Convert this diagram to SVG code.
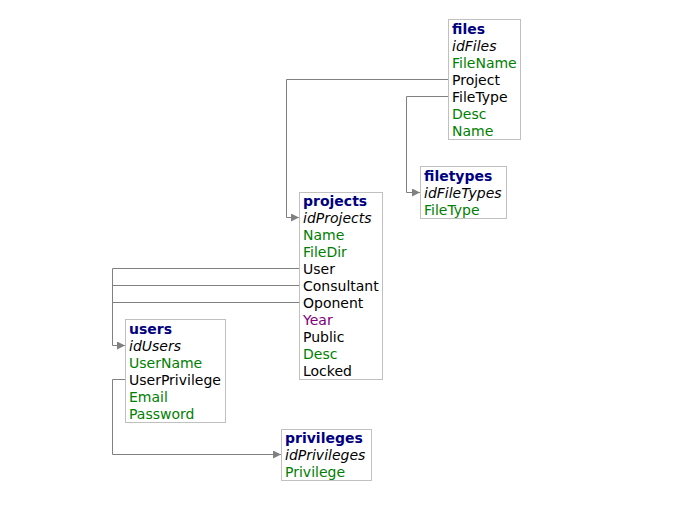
<svg xmlns="http://www.w3.org/2000/svg" width="678" height="509" viewBox="0 0 678 509">
<style>
text{font-family:"DejaVu Sans",Verdana,sans-serif;font-size:14px;}
.box{fill:#fff;stroke:#c0c0c0;stroke-width:1;}
.t{fill:#000080;font-weight:bold;}
.id{fill:#000;font-style:italic;}
.g{fill:#008000;}
.k{fill:#000;}
.p{fill:#800080;}
.c{fill:none;stroke:#808080;stroke-width:1;}
</style>
<defs>
<marker id="ah" viewBox="0 0 8 8" refX="8" refY="4" markerWidth="8" markerHeight="8" markerUnits="userSpaceOnUse" orient="auto">
<path d="M0,0 L8,4 L0,8 Z" fill="#808080"/>
</marker>
</defs>
<rect width="678" height="509" fill="#fff"/>
<g id="connectors">
<path class="c" d="M448.5,79.5 H286.5 V217.5 H299" marker-end="url(#ah)"/>
<path class="c" d="M448.5,96.5 H406.5 V192.5 H420" marker-end="url(#ah)"/>
<path class="c" d="M299,268.5 H112.5 V345.5 H125" marker-end="url(#ah)"/>
<path class="c" d="M299,285.5 H112.5"/>
<path class="c" d="M299,302.5 H112.5"/>
<path class="c" d="M125,379.5 H112.5 V454.5 H281" marker-end="url(#ah)"/>
</g>
<g id="files">
<rect class="box" x="448.5" y="19.5" width="72" height="120"/>
<text x="452" y="34" class="t">files</text>
<text x="452" y="51" class="id">idFiles</text>
<text x="452" y="68" class="g">FileName</text>
<text x="452" y="85" class="k">Project</text>
<text x="452" y="102" class="k">FileType</text>
<text x="452" y="119" class="g">Desc</text>
<text x="452" y="136" class="g">Name</text>
</g>
<g id="filetypes">
<rect class="box" x="420.5" y="166.5" width="86" height="52"/>
<text x="424" y="181" class="t">filetypes</text>
<text x="424" y="198" class="id">idFileTypes</text>
<text x="424" y="215" class="g">FileType</text>
</g>
<g id="projects">
<rect class="box" x="299.5" y="192.5" width="83" height="187"/>
<text x="303" y="206" class="t">projects</text>
<text x="303" y="223" class="id">idProjects</text>
<text x="303" y="240" class="g">Name</text>
<text x="303" y="257" class="g">FileDir</text>
<text x="303" y="274" class="k">User</text>
<text x="303" y="291" class="k">Consultant</text>
<text x="303" y="308" class="k">Oponent</text>
<text x="303" y="325" class="p">Year</text>
<text x="303" y="342" class="k">Public</text>
<text x="303" y="359" class="g">Desc</text>
<text x="303" y="376" class="k">Locked</text>
</g>
<g id="users">
<rect class="box" x="125.5" y="319.5" width="100" height="103"/>
<text x="129" y="334" class="t">users</text>
<text x="129" y="351" class="id">idUsers</text>
<text x="129" y="368" class="g">UserName</text>
<text x="129" y="385" class="k">UserPrivilege</text>
<text x="129" y="402" class="g">Email</text>
<text x="129" y="419" class="g">Password</text>
</g>
<g id="privileges">
<rect class="box" x="281.5" y="429.5" width="90" height="51"/>
<text x="285" y="443" class="t">privileges</text>
<text x="285" y="460" class="id">idPrivileges</text>
<text x="285" y="477" class="g">Privilege</text>
</g>
</svg>
